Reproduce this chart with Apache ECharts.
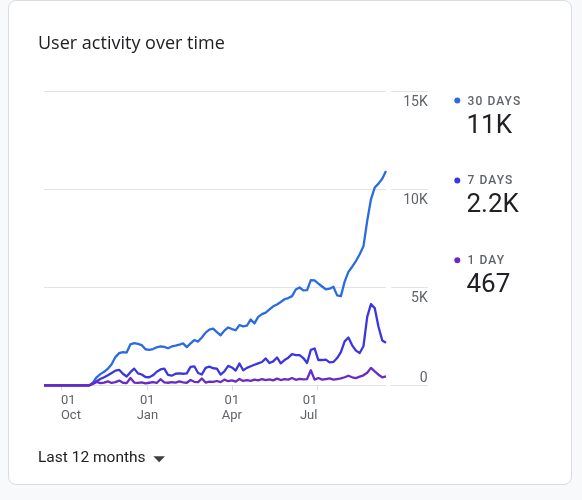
<!DOCTYPE html>
<html><head><meta charset="utf-8">
<script src="https://cdn.jsdelivr.net/npm/echarts@6.0.0/dist/echarts.min.js"></script>
<style>
html,body{margin:0;padding:0;background:#f8f9fa;width:582px;height:500px;overflow:hidden}
#card{position:absolute;left:8px;top:0;width:564px;height:485px;box-sizing:border-box;border:1px solid #dadce0;border-radius:8px;background:#fff}
#chart{position:absolute;left:0;top:0;width:582px;height:500px}
.lg{position:absolute;left:467.5px;height:14px;line-height:14px;font:500 12px Roboto,"Noto Sans",sans-serif;letter-spacing:1.1px;color:#5f6368;white-space:nowrap}
</style></head><body>
<div id="card"></div><div id="chart"></div><div id="legend"></div>
<script>
// sampling grid: one point every 4 days over the last 12 months
const START = '2022-09-13';
const END = '2023-09-12';
const STEP_DAYS = 4;

const xTickDates = ['2022-10-01', '2023-01-01', '2023-04-01', '2023-07-01'];
const yTicks = [0, 5000, 10000, 15000];
const seriesNames = ['30 DAYS', '7 DAYS', '1 DAY'];
const seriesColors = ['#2a6be3', '#3a37e0', '#6a2bc4'];

const users30 = [0,0,0,0,0,0,0,0,0,0,0,0,0,
  150,420,580,700,860,1080,1450,1650,1700,1680,
  2100,2160,2120,2060,1850,1820,1860,1950,1990,1970,
  1900,1990,2030,2080,2150,1960,2150,2320,2240,2450,
  2700,2850,2900,2720,2560,2800,2960,2880,2820,3080,
  3020,3050,3370,3170,3500,3640,3720,3880,4040,4130,
  4260,4400,4460,4560,4900,5000,4850,4870,5380,5360,
  5200,5050,4900,4940,5040,4600,4560,5300,5800,6060,
  6350,6700,7100,8400,9500,10100,10300,10550,10950];

const users7 = [0,0,0,0,0,0,0,0,0,0,0,0,0,
  100,220,330,420,520,640,760,800,600,460,
  680,860,620,560,430,420,520,700,820,860,
  540,500,600,620,600,620,950,980,640,560,
  900,960,880,860,560,720,1000,920,760,1120,
  780,900,980,1060,1130,1200,1380,1150,1230,1430,
  1130,1300,1420,1600,1550,1550,1400,1150,1820,1890,
  1300,1300,1320,1180,1200,1400,1700,2250,2450,2050,
  1780,1660,2000,3500,4150,3950,3000,2300,2180];

const users1 = [0,0,0,0,0,0,0,0,0,0,0,0,0,
  80,180,120,150,210,130,170,250,140,120,
  380,150,130,160,110,140,170,130,320,160,
  140,170,150,210,160,140,280,190,170,360,
  150,200,180,230,170,300,220,260,200,330,
  230,270,240,300,260,330,270,310,260,350,
  280,320,300,380,290,340,310,330,780,300,
  380,300,330,360,300,330,360,420,500,420,
  380,450,520,650,900,720,550,420,467];

const MONTHS = ['Jan','Feb','Mar','Apr','May','Jun','Jul','Aug','Sep','Oct','Nov','Dec'];
const ts = d => Date.parse(d + 'T00:00:00Z');
const DAY = 86400000;
const t0 = ts(START);
const dayOf = d => Math.round((ts(d) - t0) / DAY);
const pairs = arr => arr.map((v, i) => [i * STEP_DAYS, v]);
const allSeries = [users30, users7, users1];
const fmtBig = v => v >= 10000 ? Math.round(v / 1000) + 'K' : v >= 1000 ? (v / 1000).toFixed(1) + 'K' : String(v);
const FONT = 'Roboto, "Noto Sans", sans-serif';
const tickDays = xTickDates.map(dayOf);

const chart = echarts.init(document.getElementById('chart'), null, {renderer: 'canvas'});

const graphics = [
  {type: 'text', x: 38, y: 44, style: {text: 'User activity over time', fill: '#202124', font: '18px "Open Sans", ' + FONT, verticalAlign: 'middle'}},
  {type: 'text', x: 38, y: 458, style: {text: 'Last 12 months', fill: '#202124', font: '15.5px ' + FONT, verticalAlign: 'middle'}},
  {type: 'polygon', shape: {points: [[153.3, 456.3], [165, 456.3], [159.2, 462.3]]}, style: {fill: '#3c4043'}}
];
const legendBox = document.getElementById('legend');
seriesNames.forEach((name, i) => {
  const y = 100.6 + i * 79.8;
  const arr = allSeries[i];
  graphics.push({type: 'circle', shape: {cx: 457.3, cy: y, r: 3}, style: {fill: seriesColors[i]}});
  const lab = document.createElement('div');
  lab.className = 'lg';
  lab.style.top = (y - 7) + 'px';
  lab.textContent = name;
  legendBox.appendChild(lab);
  graphics.push({type: 'text', x: 466.5, y: y + 25.4, style: {text: fmtBig(arr[arr.length - 1]), fill: '#202124', font: '26px ' + FONT, verticalAlign: 'middle'}});
});

const yBase = {type: 'value', min: yTicks[0], max: yTicks[yTicks.length - 1], interval: yTicks[1] - yTicks[0],
  axisLine: {show: false}, axisTick: {show: false}};

chart.setOption({
  animation: false,
  backgroundColor: 'transparent',
  textStyle: {fontFamily: FONT},
  grid: [
    {left: 44, top: 91.5, width: 342, height: 294, containLabel: false, outerBoundsMode: 'none'},
    {left: 391, top: 91.5, width: 36.7, height: 294, containLabel: false, outerBoundsMode: 'none'}
  ],
  xAxis: [
    {type: 'value', gridIndex: 0, min: 0, max: dayOf(END),
      axisLine: {show: false}, splitLine: {show: false},
      axisTick: {show: true, customValues: tickDays, length: 5, lineStyle: {color: '#dadce0'}},
      axisLabel: {customValues: tickDays,
        formatter: v => { const d = new Date(t0 + v * DAY); return String(d.getUTCDate()).padStart(2, '0') + '\n' + MONTHS[d.getUTCMonth()]; },
        color: '#5f6368', fontSize: 13, lineHeight: 14.5, margin: 8, fontFamily: FONT,
        alignMinLabel: 'left', alignMaxLabel: 'right', hideOverlap: false}},
    {type: 'value', gridIndex: 1, show: false, min: 0, max: 1}
  ],
  yAxis: [
    Object.assign({}, yBase, {gridIndex: 0, axisLabel: {show: false},
      splitLine: {show: true, lineStyle: {color: '#e3e3e3', width: 1}}}),
    Object.assign({}, yBase, {gridIndex: 1, position: 'right',
      splitLine: {show: true, lineStyle: {color: '#e3e3e3', width: 1}},
      axisLabel: {inside: true, margin: 0, verticalAlign: 'top', padding: [4, 0, 0, 0],
        formatter: v => v === 0 ? '' : (v / 1000) + 'K', color: '#5f6368', fontSize: 14, fontFamily: FONT}}),
    Object.assign({}, yBase, {gridIndex: 1, position: 'right', splitLine: {show: false},
      axisLabel: {inside: true, margin: 0, verticalAlign: 'bottom',
        formatter: v => v === 0 ? '0' : '', color: '#5f6368', fontSize: 14, fontFamily: FONT}})
  ],
  series: allSeries.map((arr, i) => ({
    type: 'line', name: seriesNames[i], xAxisIndex: 0, yAxisIndex: 0,
    data: pairs(arr), showSymbol: false, symbol: 'none', smooth: false,
    lineStyle: {color: seriesColors[i], width: 2.3, join: 'round'}, itemStyle: {color: seriesColors[i]},
    z: 2 + i
  })),
  graphic: graphics
});
</script>
</body></html>
